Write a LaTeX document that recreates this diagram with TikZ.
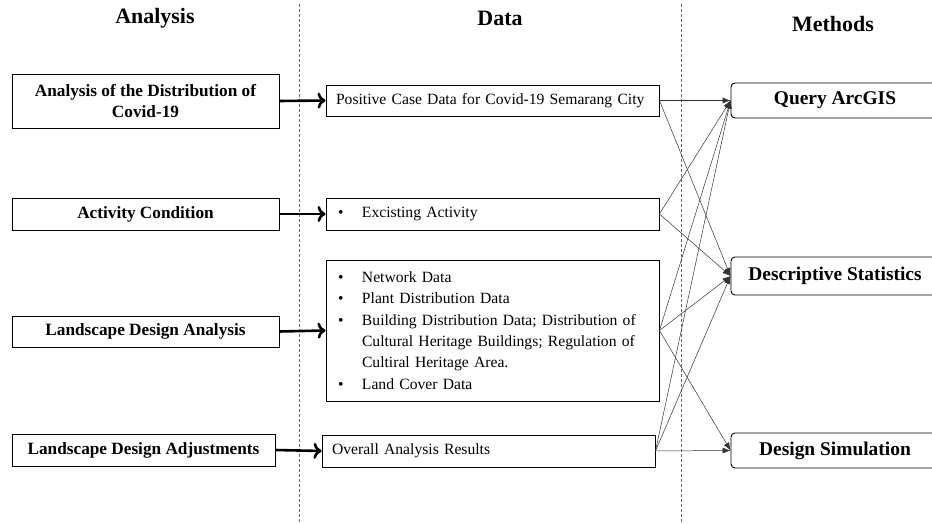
\documentclass[tikz,border=0pt]{standalone}
\usepackage{fontspec}
\setmainfont{Liberation Serif}
\usetikzlibrary{arrows.meta}

\definecolor{sepred}{RGB}{205,60,60}
\newcommand{\blt}{\makebox[26bp][l]{\hspace{2bp}\textbullet}}

\begin{document}
\begin{tikzpicture}[x=1bp, y=-1bp,
  box/.style={draw, line width=0.9bp, inner sep=0pt, minimum height=32bp},
  anbox/.style={box, minimum width=267bp, align=center, font=\fontsize{17.3}{22}\selectfont\bfseries},
  databox/.style={box, minimum width=333bp, text width=313bp, align=left, font=\fontsize{15.7}{21.5}\selectfont},
  methbox/.style={draw, line width=0.9bp, rounded corners=4bp, minimum width=208bp, minimum height=35bp, font=\fontsize{19.5}{22}\selectfont\bfseries},
  head/.style={font=\fontsize{22}{26}\selectfont\bfseries},
  sep/.style={sepred, dash pattern=on 3bp off 2bp, line width=0.8bp},
  thick arrow/.style={-{To[length=8bp,width=16bp]}, line width=2.6bp},
  thin arrow/.style={-{Latex[length=8bp,width=6bp]}, line width=0.5bp, black!80}]
\useasboundingbox (0,0) rectangle (932,524);
\draw[sep] (299,4) -- (299,524);
\draw[sep] (681,4) -- (681,524);

\node[head] (hA) at (155,18) {Analysis};
\node[head] (hD) at (500,18) {Data};
\node[head] (hM) at (833,24) {Methods};

\node[anbox, minimum height=54bp] (A1) at (145.5,101) {Analysis of the Distribution of\\Covid-19};
\node[anbox] (A2) at (145.5,214) {Activity Condition};
\node[anbox, minimum height=31bp] (A3) at (145.5,331.5) {Landscape Design Analysis};
\node[anbox, minimum width=263bp] (A4) at (143.5,450) {Landscape Design Adjustments};

\node[databox, minimum height=31bp] (D1) at (492.5,100.5) {Positive Case Data for Covid-19 Semarang City};
\node[databox] (D2) at (492.5,214) {\blt Excisting Activity};
\node[databox, minimum height=141bp] (D3) at (492.5,330.5) {\blt Network Data\\
  \blt Plant Distribution Data\\
  \blt Building Distribution Data; Distribution of\\
  \hspace*{26bp}Cultural Heritage Buildings; Regulation of\\
  \hspace*{26bp}Cultiral Heritage Area.\\
  \blt Land Cover Data};
\node[databox] (D4) at (488.5,451) {Overall Analysis Results};

\node[methbox] (M1) at (835,100.5) {Query ArcGIS};
\node[methbox, minimum height=38bp] (M2) at (835,276) {Descriptive Statistics};
\node[methbox] (M3) at (835,450.5) {Design Simulation};

\foreach \i in {1,...,4}
  \draw[thick arrow] (A\i.east) -- (D\i.west);

\path[thin arrow] (D1.east) edge (M1.west) edge (M2.west)
  (D2.east) edge (M1.west) edge (M2.west)
  (D3.east) edge (M1.west) edge (M2.west) edge (M3.west)
  (D4.east) edge (M1.west) edge (M2.west) edge (M3.west);
\end{tikzpicture}
\end{document}
